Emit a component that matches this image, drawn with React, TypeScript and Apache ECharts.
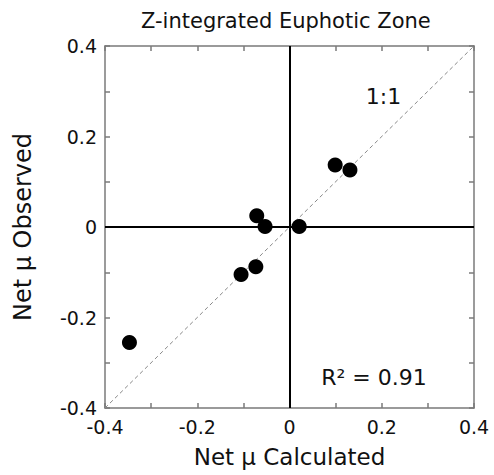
import React, { useEffect, useRef } from "react";
import * as echarts from "echarts";

const titleText = "Z-integrated Euphotic Zone";
const xName = "Net \u03bc Calculated";
const yName = "Net \u03bc Observed";
const calculated = [-0.347, -0.105, -0.073, -0.071, -0.053, 0.021, 0.099, 0.131];
const observed = [-0.255, -0.105, -0.088, 0.025, 0.001, 0.001, 0.137, 0.126];
const oneToOne = [[-0.4, -0.4], [0.4, 0.4]];
const axisMin = -0.4;
const axisMax = 0.4;
const tickStep = 0.1;
const r2Label = "R\u00b2 = 0.91";
const lineLabel = "1:1";

const FONT = "DejaVu Sans";

function fmt(v: number): string {
  const k = Math.round(v * 10);
  if (k % 2 !== 0) return "";
  if (k === 0) return "0";
  return (k / 10).toFixed(1);
}

export default function App() {
  const ref = useRef<HTMLDivElement>(null);
  useEffect(() => {
    if (!ref.current) return;
    const chart = echarts.init(ref.current, null, { renderer: "svg" });
    const boxLine = { show: true, onZero: false, lineStyle: { color: "#7a7a7a", width: 1.5 } };
    const tick = { show: true, inside: true, length: 5, lineStyle: { color: "#7a7a7a", width: 1.5 } };
    const baseAxis = {
      type: "value" as const,
      min: axisMin,
      max: axisMax,
      interval: tickStep,
      splitLine: { show: false },
      axisLine: boxLine,
      axisTick: tick,
    };
    const points = calculated.map((x, i) => [x, observed[i]]);
    chart.setOption({
      animation: false,
      backgroundColor: "#fff",
      title: {
        text: titleText,
        left: 141,
        top: 10,
        padding: 0,
        textStyle: { fontFamily: FONT, fontSize: 21, fontWeight: "normal", color: "#111" },
      },
      grid: { left: 105, right: 20, top: 46, bottom: 67 },
      xAxis: [
        {
          ...baseAxis,
          position: "bottom",
          name: xName,
          nameLocation: "middle",
          nameGap: 37,
          nameTextStyle: { fontFamily: FONT, fontSize: 23, color: "#111" },
          axisLabel: { formatter: fmt, margin: 9, fontFamily: FONT, fontSize: 19, color: "#111" },
        },
        { ...baseAxis, position: "top", axisLabel: { show: false } },
      ],
      yAxis: [
        {
          ...baseAxis,
          position: "left",
          name: yName,
          nameLocation: "middle",
          nameGap: 70,
          nameTextStyle: { fontFamily: FONT, fontSize: 24, color: "#111" },
          axisLabel: { formatter: fmt, margin: 8, fontFamily: FONT, fontSize: 19, color: "#111" },
        },
        { ...baseAxis, position: "right", axisLabel: { show: false } },
      ],
      graphic: [
        {
          type: "text",
          style: {
            text: lineLabel,
            x: 383.5,
            y: 96,
            textAlign: "center",
            textVerticalAlign: "middle",
            fontFamily: FONT,
            fontSize: 22,
            fill: "#111",
          },
        },
        {
          type: "text",
          style: {
            text: r2Label,
            x: 374,
            y: 377,
            textAlign: "center",
            textVerticalAlign: "middle",
            fontFamily: FONT,
            fontSize: 22,
            fill: "#111",
          },
        },
      ],
      series: [
        {
          type: "line",
          data: oneToOne,
          showSymbol: false,
          silent: true,
          lineStyle: { color: "#888", width: 1, type: [4, 3] },
          z: 1,
        },
        {
          type: "scatter",
          data: points,
          symbol: "circle",
          symbolSize: 15,
          itemStyle: { color: "#000", opacity: 1 },
          z: 3,
          markLine: {
            silent: true,
            symbol: "none",
            label: { show: false },
            lineStyle: { color: "#000", width: 2, type: "solid" },
            data: [{ xAxis: 0 }, { yAxis: 0 }],
          },
        },
      ],
    });
    return () => chart.dispose();
  }, []);
  return <div ref={ref} style={{ width: 494, height: 475, position: "absolute", left: 0, top: 0 }} />;
}
